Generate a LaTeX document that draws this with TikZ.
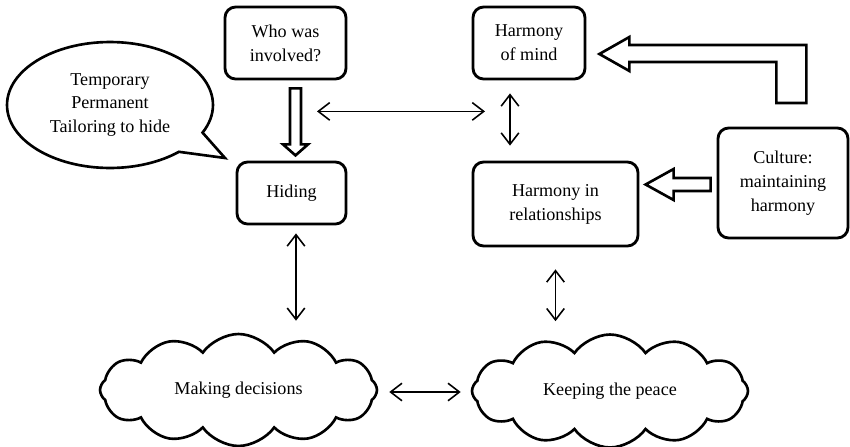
\documentclass[tikz,border=0pt]{standalone}
\usepackage{fontspec}
\setmainfont{Liberation Serif}
\usetikzlibrary{shapes.symbols,shapes.callouts,arrows.meta,calc}

\tikzset{
  box/.style={draw, line width=1.6pt, rounded corners=6pt, align=center, inner sep=2pt},
  talk/.style={draw, line width=1.5pt, ellipse callout, callout pointer arc=22, align=center},
  puff/.style={draw, line width=1.5pt, cloud, cloud puffs=12, cloud puff arc=110,
    cloud ignores aspect, align=center},
  both/.style={{Straight Barb[length=6.5pt,width=10pt]}-{Straight Barb[length=6.5pt,width=10pt]},
    line width=0.9pt},
  fat/.style={draw, line width=1.5pt, line join=miter},
}

\begin{document}
\begin{tikzpicture}[x=0.02cm, y=-0.02cm, font=\fontsize{10.3}{13.6}\selectfont]
  \useasboundingbox (0,0) rectangle (850,447);

  % boxes
  \node[box, minimum width=2.42cm, minimum height=1.44cm] (who) at (285.5,43) {Who was\\involved?};
  \node[box, minimum width=2.18cm, minimum height=1.24cm] (hiding) at (291.5,193) {Hiding};
  \node[box, minimum width=2.24cm, minimum height=1.44cm] (mind) at (529,43) {Harmony\\of mind};
  \node[box, minimum width=3.3cm, minimum height=1.68cm] (rel) at (555.5,204) {Harmony in\\relationships};
  \node[box, minimum width=2.6cm, minimum height=2.2cm] (culture) at (783,183) {Culture:\\maintaining\\harmony};

  % bubble and clouds
  \node[talk, minimum width=4.12cm, minimum height=2.52cm, callout absolute pointer={(225,158)}]
    (bubble) at (110,105) {Temporary\\Permanent\\Tailoring to hide};
  \node[puff, minimum width=5.54cm, minimum height=2.24cm] (making) at (238.5,390) {Making decisions};
  \node[puff, minimum width=5.52cm, minimum height=2.26cm] (keeping) at (610,391) {Keeping the peace};

  % block arrows
  \draw[fat] ($(who.south)+(4.5,8)$) -- ++(11,0) -- ++(0,56) -- ++(7,0) -- ++(-12.5,11)
    -- ++(-12.5,-11) -- ++(7,0) -- cycle;
  \draw[fat] ($(culture.west)+(-6,-5)$) -- ++(-37,0) -- ++(0,-9) -- ++(-28,15.5)
    -- ++(28,15.5) -- ++(0,-9) -- ++(37,0) -- cycle;
  \draw[fat] ($(mind.east)+(13,11)$) -- ++(30,-17) -- ++(0,8) -- ++(177,0) -- ++(0,58)
    -- ++(-30,0) -- ++(0,-41) -- ++(-147,0) -- ++(0,9) -- cycle;

  % two-way arrows
  \coordinate (left) at ($(who.south)+(31.5,31)$);
  \coordinate (right) at ($(mind.south)+(-44,31)$);
  \draw[both] (left) -- (right);
  \draw[both] ($(mind.south)+(-19,13)$) -- ($(rel.north)+(-45.5,-15)$);
  \draw[both, shorten <=0.16cm, shorten >=0.24cm] ([xshift=0.09cm]hiding.south) -- ([xshift=0.09cm]hiding.south |- making.north);
  \draw[both, shorten <=0.44cm, shorten >=0.24cm] (rel.south) -- (rel.south |- keeping.north);
  \draw[both, shorten <=0.22cm, shorten >=0.2cm] ([yshift=-0.04cm]making.east) -- ([yshift=-0.04cm]making.east -| keeping.west);
\end{tikzpicture}
\end{document}
